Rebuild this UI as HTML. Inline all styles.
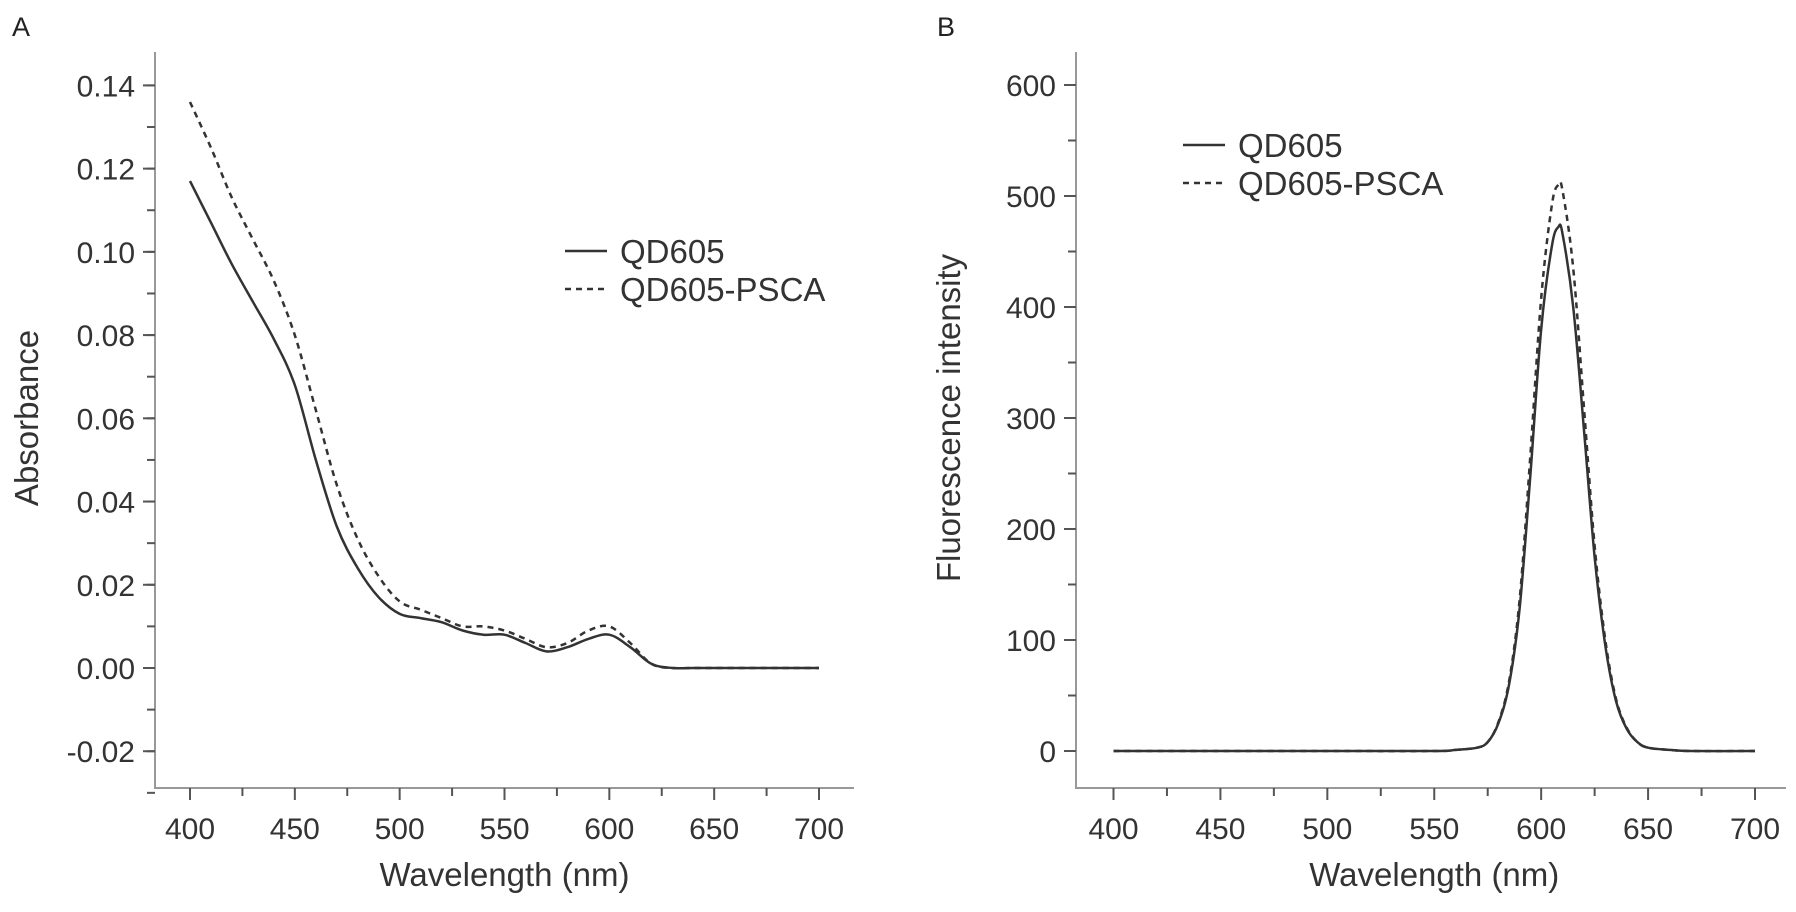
<!DOCTYPE html>
<html><head><meta charset="utf-8"><style>
body{margin:0;background:#fff}
svg{display:block;font-family:"Liberation Sans",Arial,sans-serif}
</style></head><body>
<svg id="c" width="1796" height="912" viewBox="0 0 1796 912">
<text x="12" y="36" font-size="27" fill="#222">A</text>
<text x="937" y="36" font-size="27" fill="#222">B</text>
</svg>
<script>
// Panel A data
const absX = [400,410,420,430,440,450,460,470,480,490,500,510,520,530,540,550,560,570,580,590,600,610,620,630,640,650,660,670,680,690,700];
const absQD = [0.117,0.107,0.097,0.088,0.079,0.068,0.050,0.034,0.024,0.017,0.013,0.012,0.011,0.009,0.008,0.008,0.006,0.004,0.005,0.007,0.008,0.005,0.001,0.0,0.0,0.0,0.0,0.0,0.0,0.0,0.0];
const absPSCA = [0.136,0.125,0.113,0.103,0.093,0.080,0.062,0.044,0.031,0.022,0.016,0.014,0.012,0.010,0.010,0.009,0.007,0.005,0.006,0.009,0.010,0.006,0.001,0.0,0.0,0.0,0.0,0.0,0.0,0.0,0.0];
const absYTicks = ["-0.02","0.00","0.02","0.04","0.06","0.08","0.10","0.12","0.14"];
// Panel B data
const flX = [400,450,500,550,560,570,575,580,585,590,595,600,605,608,610,615,620,625,630,635,640,645,650,660,670,700];
const flQD = [0,0,0,0,1,3,8,25,60,130,250,380,455,472,466,400,290,175,95,45,20,8,3,1,0,0];
const flPSCA = [0,0,0,0,1,3,8,26,63,138,268,408,492,510,505,435,310,185,100,47,21,8,3,1,0,0];
const flYTicks = ["0","100","200","300","400","500","600"];
const xTicks = ["400","450","500","550","600","650","700"];

const svg = document.getElementById('c');
const NS = 'http://www.w3.org/2000/svg';
function mk(tag, attrs, parent){const e=document.createElementNS(NS,tag);for(const k in attrs)e.setAttribute(k,attrs[k]);(parent||svg).appendChild(e);return e;}
function path(xs, ys, sx, sy){
  const p = xs.map((x,i)=>[sx(x),sy(ys[i])]);
  let d='M'+p[0][0].toFixed(1)+','+p[0][1].toFixed(1);
  for(let i=0;i<p.length-1;i++){
    const p0=p[Math.max(0,i-1)],p1=p[i],p2=p[i+1],p3=p[Math.min(p.length-1,i+2)];
    const c1x=p1[0]+(p2[0]-p0[0])/6,c1y=p1[1]+(p2[1]-p0[1])/6;
    const c2x=p2[0]-(p3[0]-p1[0])/6,c2y=p2[1]-(p3[1]-p1[1])/6;
    d+=' C'+c1x.toFixed(1)+','+c1y.toFixed(1)+' '+c2x.toFixed(1)+','+c2y.toFixed(1)+' '+p2[0].toFixed(1)+','+p2[1].toFixed(1);
  }
  return d;
}
function panel(o){
  const sx = x => o.x0 + (x-400)/300*(o.x1-o.x0);
  const sy = v => o.y0 + (v-o.v0)/(o.v1-o.v0)*(o.y1-o.y0);
  const g = mk('g',{});
  
  
  const ax = mk('path',{d:`M${o.ax},52 V788 H${o.axr}`,stroke:'#999',fill:'none','stroke-width':2},g);
  
  
  for(let x=400;x<=700;x+=25){
    const major = x%50===0;
    mk('line',{x1:sx(x),x2:sx(x),y1:788,y2:major?800:796,stroke:'#555','stroke-width':2},g);
  }
  xTicks.forEach(t=>{
    const e=mk('text',{x:sx(+t),y:839,'font-size':30,'text-anchor':'middle',fill:'#333'},g);
    e.textContent=t;
    
    
  });
  for(let v=o.minorStart; v<=o.minorEnd+1e-9; v+=o.minor){
    mk('line',{x1:o.ax-8,x2:o.ax,y1:sy(v),y2:sy(v),stroke:'#555','stroke-width':2},g);
  }
  o.yTicks.forEach(t=>{
    const y=sy(+t);
    mk('line',{x1:o.ax-12,x2:o.ax,y1:y,y2:y,stroke:'#555','stroke-width':2},g);
    const e=mk('text',{x:o.ax-20,y:y+11,'font-size':30,'text-anchor':'end',fill:'#333'},g);
    e.textContent=t;
    
    
  });
  const xt=mk('text',{x:(o.x0+o.x1)/2,y:886,'font-size':33,'text-anchor':'middle',fill:'#333'},g);
  xt.textContent='Wavelength (nm)';
  
  
  const yt=mk('text',{x:0,y:0,'font-size':33,'text-anchor':'middle',fill:'#333',transform:`translate(${o.ytx},418) rotate(-90)`},g);
  yt.textContent=o.ytitle;
  
  
  const l1=mk('path',{d:path(o.xs,o.s1,sx,sy),stroke:'#333',fill:'none','stroke-width':2.5},g);
  
  
  const l2=mk('path',{d:path(o.xs,o.s2,sx,sy),stroke:'#333',fill:'none','stroke-width':2.5,'stroke-dasharray':'6,5'},g);
  
  
  [['QD605',o.ly,null],['QD605-PSCA',o.ly+38,'6,5']].forEach(([lab,y,da])=>{
    const a={x1:o.lx,x2:o.lx+42,y1:y,y2:y,stroke:'#333','stroke-width':2.5};
    if(da)a['stroke-dasharray']=da;
    const ln=mk('line',a,g);
    
    
    const t=mk('text',{x:o.lx+55,y:y+12,'font-size':33,fill:'#333'},g);
    t.textContent=lab;
    
    
  });
}
panel({name:'panel-a',ax:155,axr:854,x0:190,x1:819,y0:668,y1:85.4,v0:0,v1:0.14,
  minor:0.01,minorStart:-0.03,minorEnd:0.14,yTicks:absYTicks,ytitle:'Absorbance',ytx:38,
  xs:absX,s1:absQD,s2:absPSCA,lx:565,ly:251});
panel({name:'panel-b',ax:1076,axr:1786,x0:1113.5,x1:1755,y0:751,y1:85,v0:0,v1:600,
  minor:50,minorStart:0,minorEnd:600,yTicks:flYTicks,ytitle:'Fluorescence intensity',ytx:960,
  xs:flX,s1:flQD,s2:flPSCA,lx:1183,ly:145});
</script>
</body></html>
